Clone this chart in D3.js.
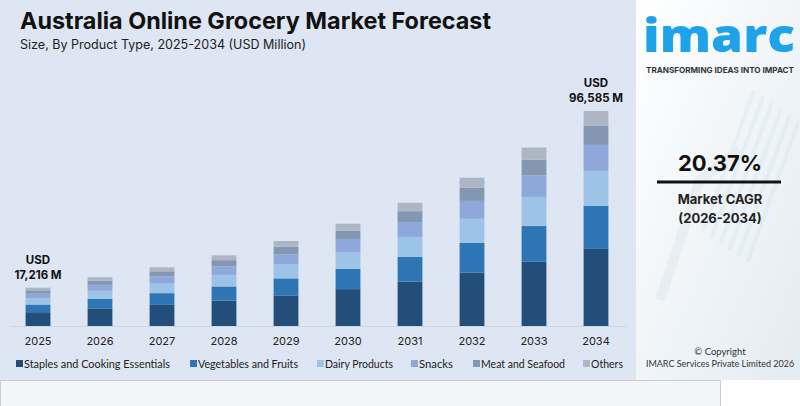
<!DOCTYPE html>
<html>
<head>
<meta charset="utf-8">
<script src="https://cdn.jsdelivr.net/npm/d3@7"></script>
<style>
  body { margin: 0; background: #ffffff; }
  svg { display: block; font-family: Inter, "Noto Sans", sans-serif; }
</style>
</head>
<body>
<script>
// Data
const years = ['2025', '2026', '2027', '2028', '2029', '2030', '2031', '2032', '2033', '2034'];
const seriesNames = ['Staples and Cooking Essentials', 'Vegetables and Fruits', 'Dairy Products', 'Snacks', 'Meat and Seafood', 'Others'];
const staples = [6200, 7880, 9490, 11420, 13750, 16550, 19920, 23980, 28860, 34640];
const vegetables = [3440, 4380, 5270, 6350, 7640, 9190, 11070, 13320, 16040, 19330];
const dairy = [2800, 3570, 4300, 5170, 6220, 7490, 9020, 10860, 13070, 15720];
const snacks = [2080, 2650, 3190, 3840, 4620, 5560, 6700, 8060, 9700, 11690];
const meat = [1520, 1930, 2320, 2790, 3360, 4050, 4870, 5860, 7060, 8530];
const others = [1176, 1490, 1790, 2160, 2600, 3130, 3760, 4530, 5450, 6675];
const colors = ['#234e7a', '#2e75b6', '#9dc3e6', '#8fa8dc', '#8497b0', '#adb6c5'];
const callouts = [{ year: '2025', label: '17,216 M' }, { year: '2034', label: '96,585 M' }];

const width = 800;
const height = 406;

const svg = d3.select('body')
  .append('svg')
  .attr('width', width)
  .attr('height', height);

// Backgrounds
const defs = svg.append('defs');
const grad = defs.append('linearGradient')
  .attr('id', 'rightBg')
  .attr('x1', '0').attr('y1', '0').attr('x2', '1').attr('y2', '1');
grad.append('stop').attr('offset', '0%').attr('stop-color', '#ffffff');
grad.append('stop').attr('offset', '60%').attr('stop-color', '#eef3f7');
grad.append('stop').attr('offset', '100%').attr('stop-color', '#e4ebf1');

svg.append('rect').attr('x', 636).attr('y', 0).attr('width', 164).attr('height', 380).attr('fill', 'url(#rightBg)');

// faint decorative stripes on the right
const deco = svg.append('g').attr('opacity', 0.35);
d3.range(6).forEach(i => {
  deco.append('rect')
    .attr('x', 752 + i * 9).attr('y', 90 + i * 6)
    .attr('width', 4).attr('height', 150)
    .attr('fill', '#cfe6ef')
    .attr('transform', `rotate(20, ${752 + i * 9}, ${90 + i * 6})`);
});
deco.append('path')
  .attr('d', 'M660 300 L700 180 L740 150')
  .attr('fill', 'none').attr('stroke', '#d9e0e6').attr('stroke-width', 10);

svg.append('rect').attr('x', 0).attr('y', 0).attr('width', 636).attr('height', 380).attr('fill', '#dde6f2');
svg.append('rect').attr('x', 0.5).attr('y', 380.5).attr('width', 720).attr('height', 26)
  .attr('fill', '#f3f5f8').attr('stroke', '#c9ced6');

// Title
svg.append('text')
  .attr('x', 20).attr('y', 29)
  .attr('font-size', 23.5).attr('font-weight', 700).attr('fill', '#111')
  .attr('textLength', 471).attr('lengthAdjust', 'spacingAndGlyphs')
  .text('Australia Online Grocery Market Forecast');
svg.append('text')
  .attr('x', 20).attr('y', 49)
  .attr('font-size', 12.8).attr('fill', '#222')
  .attr('textLength', 286).attr('lengthAdjust', 'spacingAndGlyphs')
  .text('Size, By Product Type, 2025-2034 (USD Million)');

// Scales
const x = d3.scaleBand()
  .domain(years)
  .range([7, 627])
  .paddingInner(0.6)
  .paddingOuter(0.3);

const stackData = years.map((yr, i) => ({
  year: yr,
  s0: staples[i], s1: vegetables[i], s2: dairy[i], s3: snacks[i], s4: meat[i], s5: others[i]
}));
const keys = ['s0', 's1', 's2', 's3', 's4', 's5'];
const stacked = d3.stack().keys(keys)(stackData);
const maxTotal = d3.max(stacked[stacked.length - 1], d => d[1]);

const y = d3.scaleLinear()
  .domain([0, maxTotal])
  .range([326, 111]);

// baseline
svg.append('line')
  .attr('x1', 10).attr('x2', 626)
  .attr('y1', 326.5).attr('y2', 326.5)
  .attr('stroke', '#cdd6e2').attr('stroke-width', 1);

// Bars
svg.append('g')
  .selectAll('g')
  .data(stacked)
  .enter()
  .append('g')
  .attr('fill', (d, i) => colors[i])
  .selectAll('rect')
  .data(d => d)
  .enter()
  .append('rect')
  .attr('x', d => x(d.data.year))
  .attr('y', d => y(d[1]))
  .attr('width', x.bandwidth())
  .attr('height', d => y(d[0]) - y(d[1]));

// Year axis
const xAxis = svg.append('g')
  .attr('transform', 'translate(0, 331)')
  .call(d3.axisBottom(x).tickSize(0).tickPadding(6));
xAxis.select('.domain').remove();
xAxis.selectAll('text')
  .attr('font-family', 'Inter, "Noto Sans", sans-serif')
  .attr('font-size', 11).attr('fill', '#222');

// Callouts
const totals = stacked[stacked.length - 1];
callouts.forEach(c => {
  const idx = years.indexOf(c.year);
  const cx = x(c.year) + x.bandwidth() / 2;
  const top = y(totals[idx][1]);
  const g = svg.append('g').attr('font-size', 11.5).attr('font-weight', 700).attr('fill', '#111').attr('text-anchor', 'middle');
  g.append('text').attr('x', cx).attr('y', top - 24).text('USD');
  g.append('text').attr('x', cx).attr('y', top - 9).text(c.label);
});

// Legend
const legendX = [16, 190, 317, 411, 473, 583];
const legendW = [146, 100, 68, 34, 84, 32];
const legend = svg.append('g')
  .selectAll('g')
  .data(seriesNames)
  .enter()
  .append('g')
  .attr('transform', (d, i) => `translate(${legendX[i]}, 368)`);
legend.append('rect')
  .attr('x', 0).attr('y', -8).attr('width', 7).attr('height', 7)
  .attr('fill', (d, i) => colors[i]);
legend.append('text')
  .attr('x', 8).attr('y', 0)
  .attr('font-size', 11).attr('fill', '#222')
  .attr('font-family', 'Lato, "Noto Sans", sans-serif')
  .attr('textLength', (d, i) => legendW[i]).attr('lengthAdjust', 'spacingAndGlyphs')
  .text(d => d);

// Logo
svg.append('text')
  .attr('x', 643).attr('y', 52)
  .attr('font-size', 46).attr('font-weight', 800).attr('fill', '#1ea2e8')
  .attr('font-family', '"Open Sans", Inter, sans-serif')
  .attr('textLength', 152).attr('lengthAdjust', 'spacingAndGlyphs')
  .text('imarc');
svg.append('text')
  .attr('x', 646).attr('y', 72.5)
  .attr('font-size', 8).attr('font-weight', 700).attr('fill', '#333')
  .attr('textLength', 148).attr('lengthAdjust', 'spacingAndGlyphs')
  .text('TRANSFORMING IDEAS INTO IMPACT');

// CAGR block
svg.append('text')
  .attr('x', 720).attr('y', 171)
  .attr('text-anchor', 'middle')
  .attr('font-size', 22).attr('font-weight', 700).attr('fill', '#111')
  .text('20.37%');
svg.append('line')
  .attr('x1', 657).attr('x2', 781)
  .attr('y1', 182).attr('y2', 182)
  .attr('stroke', '#111').attr('stroke-width', 3);
svg.append('text')
  .attr('x', 720).attr('y', 204)
  .attr('text-anchor', 'middle')
  .attr('font-size', 13).attr('font-weight', 700).attr('fill', '#222')
  .text('Market CAGR');
svg.append('text')
  .attr('x', 720).attr('y', 223)
  .attr('text-anchor', 'middle')
  .attr('font-size', 13).attr('font-weight', 700).attr('fill', '#222')
  .text('(2026-2034)');

// Copyright
svg.append('text')
  .attr('x', 720).attr('y', 355)
  .attr('text-anchor', 'middle')
  .attr('font-size', 9.5).attr('fill', '#333')
  .attr('font-family', 'Lato, "Noto Sans", sans-serif')
  .text('© Copyright');
svg.append('text')
  .attr('x', 720).attr('y', 367)
  .attr('text-anchor', 'middle')
  .attr('font-size', 9).attr('fill', '#333')
  .attr('font-family', 'Lato, "Noto Sans", sans-serif')
  .text('IMARC Services Private Limited 2026');
</script>
</body>
</html>
